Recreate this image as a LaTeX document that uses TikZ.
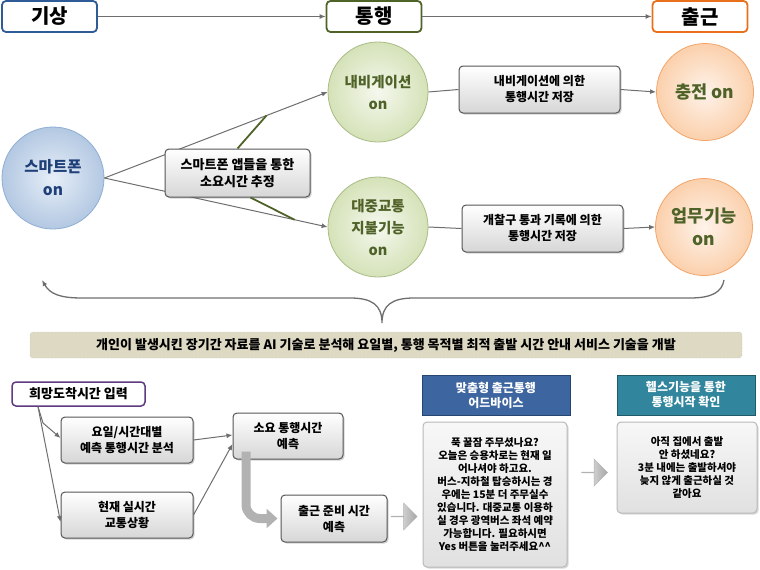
\documentclass[tikz,border=0pt]{standalone}
\usepackage{fontspec}
\setmainfont{Noto Sans CJK KR}
\usepackage{tikz}
\usetikzlibrary{arrows.meta,shapes.arrows,shadows}
\definecolor{stblue}{HTML}{2F5B96}
\definecolor{stgreen}{HTML}{4F6228}
\definecolor{storange}{HTML}{E8701A}
\definecolor{wantpurple}{HTML}{5E3A80}
\definecolor{linegray}{HTML}{6E6E6E}
\definecolor{boxline}{HTML}{555555}
\definecolor{phonein}{HTML}{E6EEF8}
\definecolor{phoneout}{HTML}{B3C8E2}
\definecolor{phonerim}{HTML}{8FAED4}
\definecolor{phonetext}{HTML}{1F3F78}
\definecolor{greenin}{HTML}{F5F8EE}
\definecolor{greenout}{HTML}{D5E2B8}
\definecolor{greenrim}{HTML}{A9BC85}
\definecolor{orangein}{HTML}{FEF3EA}
\definecolor{orangeout}{HTML}{FBD0AC}
\definecolor{orangerim}{HTML}{F2A56B}
\definecolor{bannerfill}{HTML}{DDD9C3}
\definecolor{advblue}{HTML}{3D65A0}
\definecolor{advrim}{HTML}{27466F}
\definecolor{healthteal}{HTML}{31859C}
\definecolor{healthrim}{HTML}{215966}
\tikzstyle{stage}=[draw,line width=1.8pt,rounded corners=4pt,fill=white,minimum width=95pt,minimum height=31pt,inner sep=0pt,font=\fontsize{20}{22}\selectfont\bfseries]
\tikzstyle{bubble}=[circle,inner sep=0pt,align=center,font=\fontsize{14.5}{22}\selectfont\bfseries,text=stgreen,line width=0.8pt]
\tikzstyle{blueball}=[draw=phonerim,inner color=phonein,outer color=phoneout]
\tikzstyle{greenball}=[draw=greenrim,inner color=greenin,outer color=greenout,minimum size=100pt]
\tikzstyle{orangeball}=[draw=orangerim,inner color=orangein,outer color=orangeout,minimum size=97pt]
\tikzstyle{graybox}=[draw=boxline,line width=1pt,rounded corners=4pt,top color=white,bottom color=gray!32,drop shadow={opacity=0.35,shadow xshift=1.5pt,shadow yshift=-1.5pt},align=center,inner sep=2pt,font=\fontsize{12}{16}\selectfont\bfseries]
\tikzstyle{msgbox}=[draw=gray!55,line width=1pt,rounded corners=4pt,top color=gray!6,bottom color=gray!24,drop shadow={opacity=0.3,shadow xshift=1.5pt,shadow yshift=-1.5pt},align=center,inner sep=2pt,font=\fontsize{10.5}{13.1}\selectfont\bfseries]
\tikzstyle{head}=[draw,line width=1pt,text=white,align=center,inner sep=0pt,minimum height=40pt,font=\fontsize{12}{15}\selectfont\bfseries]
\tikzstyle{line}=[draw=linegray,line width=1pt]
\tikzstyle{arr}=[line,-{Latex[length=6pt,width=5pt]}]
\tikzstyle{greenline}=[draw=stgreen,line width=1.8pt]
\tikzstyle{fatarrow}=[draw=gray!60,line width=9pt,rounded corners=14pt,-{Triangle[length=11pt,width=19pt]},shorten >=3pt]
\tikzstyle{blockarrow}=[single arrow,draw=gray!60,left color=gray!10,right color=gray!70,minimum width=27pt,minimum height=26pt,single arrow head extend=7pt,inner sep=0pt]

\begin{document}
\begin{tikzpicture}[x=1pt,y=-1pt]
\useasboundingbox (0,0) rectangle (760,570);
\node[stage,draw=stblue] (gisang) at (49.5,16.5) {기상};
\node[stage,draw=stgreen] (tonghaeng) at (374,16.5) {통행};
\node[stage,draw=storange] (chulgeun) at (700,16.5) {출근};
\draw[arr] (gisang) -- (tonghaeng);
\draw[arr] (tonghaeng) -- (chulgeun);

\node[bubble,blueball,minimum size=102pt,text=phonetext,font=\fontsize{15.5}{23}\selectfont\bfseries] (phone) at (53,178) {스마트폰\\on};
\node[bubble,greenball] (navi) at (378,92) {내비게이션\\on};
\node[bubble,greenball] (transit) at (378,227) {대중교통\\지불기능\\on};
\node[bubble,orangeball,font=\fontsize{17.5}{23}\selectfont\bfseries] (charge) at (705,92) {충전 on};
\node[bubble,orangeball,font=\fontsize{17.5}{23}\selectfont\bfseries] (work) at (704,227) {업무기능\\on};
\draw[arr] (phone.east) -- coordinate[pos=0.726] (upA) (navi.west);
\draw[arr] (phone.east) -- coordinate[pos=0.852] (lowA) (transit.west);
\node[graybox,minimum width=145pt,minimum height=48pt,font=\fontsize{13}{17}\selectfont\bfseries] (est) at (237.5,173) {스마트폰 앱들을 통한\\소요시간 추정};
\draw[greenline] (est.north) -- (upA);
\draw[greenline] ([xshift=13pt]est.south) -- (lowA);

\node[graybox,minimum width=161pt,minimum height=47pt] (naviRec) at (539.5,89.5) {내비게이션에 의한\\통행시간 저장};
\node[graybox,minimum width=161pt,minimum height=47pt] (gateRec) at (542.5,228.5) {개찰구 통과 기록에 의한\\통행시간 저장};
\draw[line] (navi.east) -- (naviRec.west);
\draw[arr] (naviRec.east) -- (charge.west);
\draw[line] (transit.east) -- (gateRec.west);
\draw[arr] (gateRec.east) -- (work.west);

\draw[line,line width=1.3pt,{Latex[length=6pt,width=5pt]}-] (42,280) .. controls (50,294) and (60,298) .. (82,298) -- (350,298) .. controls (372,298) and (382,305) .. (382,323) .. controls (382,305) and (392,298) .. (414,298) -- (690,298) .. controls (712,298) and (722,292) .. (724,280);
\node[draw=gray!60,densely dotted,rounded corners=3pt,fill=bannerfill,minimum width=712pt,minimum height=26pt,inner sep=0pt,font=\fontsize{13}{15}\selectfont\bfseries] (goal) at (386,345) {개인이 발생시킨 장기간 자료를 AI 기술로 분석해 요일별, 통행 목적별 최적 출발 시간 안내 서비스 기술을 개발};

\node[stage,draw=wantpurple,line width=1.5pt,minimum width=133pt,minimum height=24pt,font=\fontsize{13}{15}\selectfont\bfseries] (want) at (78.5,394) {희망도착시간 입력};
\node[graybox,minimum width=132pt,minimum height=46pt] (dow) at (127,440) {요일/시간대별\\예측 통행시간 분석};
\node[graybox,minimum width=132pt,minimum height=46pt] (live) at (127,515) {현재 실시간\\교통상황};
\node[graybox,minimum width=110pt,minimum height=46pt] (need) at (288,436) {소요 통행시간\\예측};
\node[graybox,minimum width=106pt,minimum height=47pt] (prep) at (334,518.5) {출근 준비 시간\\예측};
\coordinate (wantFoot) at ([xshift=-40.5pt]want.south);
\coordinate (fork) at (43,423);
\draw[line] (wantFoot) -- (fork);
\draw[arr] (fork) -- ([yshift=2pt]dow.west);
\draw[arr] (wantFoot) -- ([yshift=-7pt]live.west);
\draw[arr] (dow.east) -- ([yshift=1pt]need.west);
\draw[arr] (live.east) -- ([yshift=-8pt]need.west);
\draw[fatarrow] ([xshift=-42pt,yshift=8pt]need.south) |- (prep.west);
\node[blockarrow] (stepA) at (404,516.5) {};

\node[head,fill=advblue,draw=advrim,minimum width=148pt] (advHead) at (496,395) {맞춤형 출근통행\\어드바이스};
\node[msgbox,minimum width=144pt,minimum height=145pt] (advMsg) at (495,494.5) {푹 꿀잠 주무셨나요?\\오늘은 승용차로는 현재 일\\어나셔야 하고요.\\버스-지하철 탑승하시는 경\\우에는 15분 더 주무실수\\있습니다. 대중교통 이용하\\실 경우 광역버스 좌석 예약\\가능합니다. 필요하시면\\Yes 버튼을 눌러주세요\textasciicircum\textasciicircum};
\node[blockarrow] (stepB) at (594.5,472.5) {};
\node[head,fill=healthteal,draw=healthrim,minimum width=138pt] (healthHead) at (686,395) {헬스기능을 통한\\통행시작 확인};
\node[msgbox,minimum width=140pt,minimum height=91pt] (healthMsg) at (687,467.5) {아직 집에서 출발\\안 하셨네요?\\3분 내에는 출발하셔야\\늦지 않게 출근하실 것\\같아요};
\end{tikzpicture}
\end{document}
